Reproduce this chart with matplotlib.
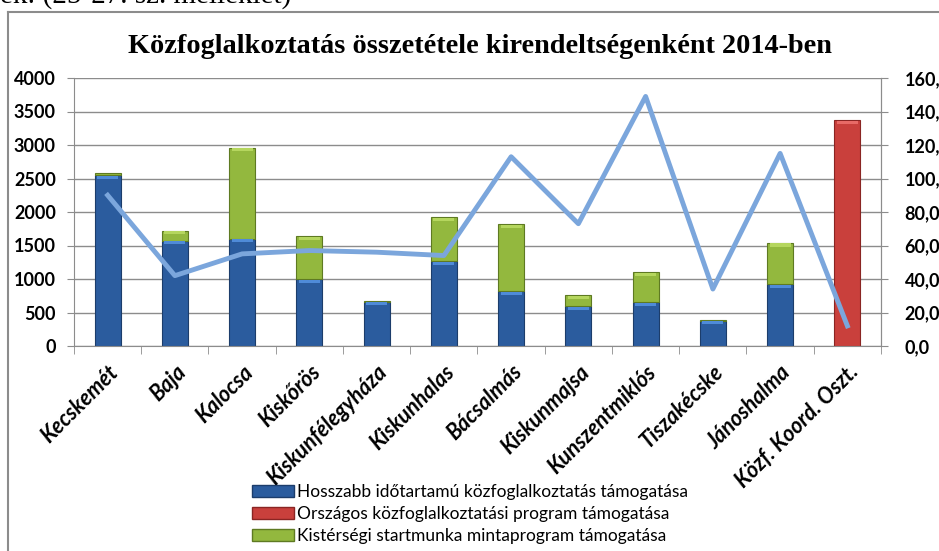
import matplotlib.pyplot as plt
import numpy as np
from matplotlib.patches import Patch
from matplotlib.lines import Line2D

# Data
kirendeltsegek = ['Kecskemét', 'Baja', 'Kalocsa', 'Kiskőrös', 'Kiskunfélegyháza',
                  'Kiskunhalas', 'Bácsalmás', 'Kiskunmajsa', 'Kunszentmiklós',
                  'Tiszakécske', 'Jánoshalma', 'Közf. Koord. Oszt.']
hosszabb = [2550, 1570, 1600, 1000, 660, 1270, 820, 590, 650, 380, 920, 0]
orszagos = [0, 0, 0, 0, 0, 0, 0, 0, 0, 0, 0, 3370]
kisterseg = [30, 150, 1360, 640, 15, 650, 1000, 170, 450, 10, 620, 0]
vonal = [90, 42, 55, 57, 56, 54, 113, 73, 149, 34, 115, 12]

labels = ['Hosszabb időtartamú közfoglalkoztatás támogatása',
          'Országos közfoglalkoztatási program támogatása',
          'Kistérségi startmunka mintaprogram támogatása']
colors = ['#2B5C9E', '#C9403C', '#93B83E']
edges = ['#1C3D6B', '#8A2523', '#5E7A22']
tops = ['#4F8BD8', '#E86A66', '#B5D65E']

W, H = 939, 551
fig = plt.figure(figsize=(W / 100, H / 100), dpi=100)
ax = fig.add_axes([74 / W, 1 - 346 / H, (881 - 74) / W, (346 - 78) / H])

x = np.arange(len(kirendeltsegek))
bw = 0.39
hosszabb = np.array(hosszabb)
kisterseg = np.array(kisterseg)
orszagos = np.array(orszagos)

# draw only the non-empty segments so zero bars leave no outline
cap = 45  # height of the light bevel strip on top of each segment
for vals, base, c, e, tc in [(hosszabb, np.zeros(len(x)), colors[0], edges[0], tops[0]),
                             (kisterseg, hosszabb, colors[2], edges[2], tops[2]),
                             (orszagos, hosszabb + kisterseg, colors[1], edges[1], tops[1])]:
    m = vals > 0
    ax.bar(x[m], vals[m], bw, bottom=base[m], color=c, edgecolor=e,
           linewidth=0.8, zorder=2)
    m2 = vals > 2 * cap
    ax.bar(x[m2], cap, bw * 0.8, bottom=base[m2] + vals[m2] - cap - 10,
           color=tc, linewidth=0, zorder=2.5)

ax.set_xlim(-0.5, len(x) - 0.5)
ax.set_ylim(0, 4000)
ax.set_yticks(np.arange(0, 4001, 500))
ax.yaxis.grid(True, color='#8c8c8c', linewidth=1)
ax.set_axisbelow(True)
ax.spines['top'].set_visible(False)
for s in ['left', 'bottom', 'right']:
    ax.spines[s].set_color('#8c8c8c')

ax.set_xticks(x)
ax.set_xticklabels(kirendeltsegek, rotation=45, ha='right', rotation_mode='anchor',
                   fontsize=15.5, fontweight='bold', fontstyle='italic', family='Lato')
ax.tick_params(axis='x', length=0, pad=11)
ax.set_xticks(np.arange(-0.5, len(x), 1), minor=True)
ax.tick_params(axis='x', which='minor', length=6, color='#8c8c8c', direction='out')
ax.tick_params(axis='y', length=5, color='#8c8c8c', labelsize=13, pad=8)
for t in ax.get_yticklabels():
    t.set_fontweight('bold')
    t.set_family('Lato')

ax2 = ax.twinx()
ax2.plot(x, vonal, color='#7BA6DC', linewidth=3.5, zorder=3)
ax2.set_ylim(0, 160)
ax2.set_yticks(np.arange(0, 161, 20))
ax2.set_yticklabels([f'{v:.1f}'.replace('.', ',') for v in np.arange(0, 161, 20)])
ax2.tick_params(axis='y', length=5, color='#8c8c8c', labelsize=13, pad=12)
for t in ax2.get_yticklabels():
    t.set_fontweight('bold')
    t.set_family('Lato')
for s in ['top', 'left', 'bottom']:
    ax2.spines[s].set_visible(False)
ax2.spines['right'].set_color('#8c8c8c')

# title
fig.text(480 / W, 1 - 53 / H,
         'Közfoglalkoztatás összetétele kirendeltségenként 2014-ben',
         ha='center', va='baseline', fontsize=20.3, fontweight='bold',
         family='Liberation Serif')

# cropped document text at the top
fig.text(0.0, 1 - 3 / H, 'ek: (25-27. sz. melléklet)', ha='left', va='baseline',
         fontsize=21, family='Liberation Serif')

# chart frame
fig.add_artist(Line2D([8 / W, 8 / W], [0, 1 - 12 / H], transform=fig.transFigure,
                      color='#8c8c8c', linewidth=1.5))
fig.add_artist(Line2D([8 / W, 1], [1 - 12 / H, 1 - 12 / H], transform=fig.transFigure,
                      color='#8c8c8c', linewidth=1.5))

handles = [Patch(facecolor=colors[i], edgecolor=edges[i]) for i in range(3)]
fig.legend(handles, labels, loc='upper left', bbox_to_anchor=(245 / W, 1 - 477 / H),
           frameon=False, handlelength=2.4, handleheight=0.75,
           handletextpad=0.2, labelspacing=0.35, borderaxespad=0,
           prop={'family': 'Lato', 'size': 12.5})

plt.savefig('out.png', dpi=100)
